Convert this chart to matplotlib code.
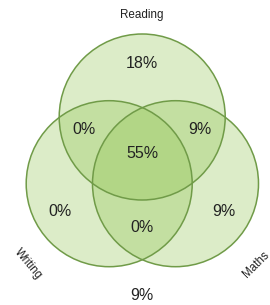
import matplotlib
matplotlib.use("Agg")
import matplotlib.pyplot as plt
from matplotlib.patches import Circle

plt.rcParams['font.family'] = ['Liberation Sans', 'DejaVu Sans']

# Data
sets = ["Reading", "Writing", "Maths"]
region_labels = ["R only", "R&W", "R&M", "R&W&M", "W only", "M only", "W&M", "none"]
region_values = [18, 0, 9, 55, 0, 9, 0, 9]

# Layout (pixel coordinates, y downward)
W, H = 270, 305
circle_centers = [(142.2, 117.0), (109.2, 183.7), (175.5, 183.7)]
radius = 83.0
region_pos = [(142, 63), (84, 129), (200, 129), (142, 154),
              (60, 212), (224, 212), (142, 228), (142, 295)]
set_label_pos = [(142, 15, 0), (28, 264, -50), (256, 265, 45)]

fig = plt.figure(figsize=(W / 100, H / 100), dpi=100)
ax = fig.add_axes([0, 0, 1, 1])
ax.set_xlim(0, W)
ax.set_ylim(H, 0)
ax.axis('off')

fill = (139/255, 195/255, 74/255)
edge = (112/255, 155/255, 72/255)
for (cx, cy) in circle_centers:
    ax.add_patch(Circle((cx, cy), radius, facecolor=fill, alpha=0.3,
                        edgecolor='none', zorder=1))
for (cx, cy) in circle_centers:
    ax.add_patch(Circle((cx, cy), radius, facecolor='none',
                        edgecolor=edge, linewidth=1.1, zorder=2))

for (x, y), v in zip(region_pos, region_values):
    ax.text(x, y, f"{v}%", ha='center', va='center', fontsize=11.5,
            color='#222222', zorder=3)

for name, (x, y, rot) in zip(sets, set_label_pos):
    ax.text(x, y, name, ha='center', va='center', fontsize=8.4,
            color='#222222', rotation=rot, rotation_mode='anchor', zorder=3)

fig.savefig("out.png", dpi=100)
